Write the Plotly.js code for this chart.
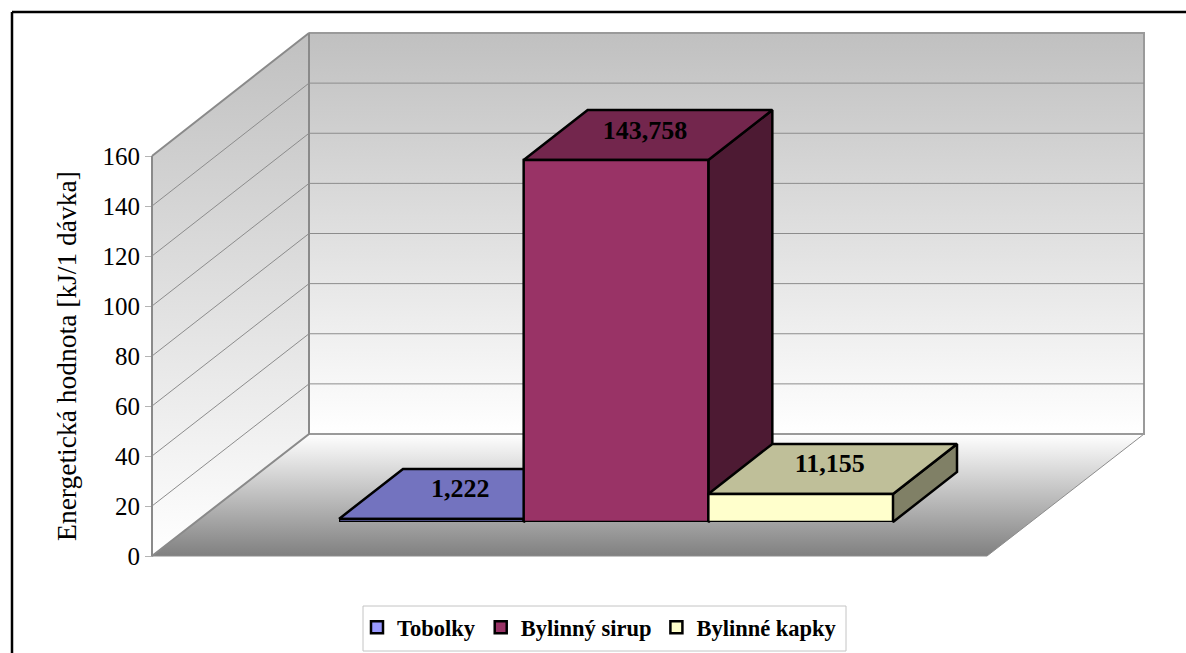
<!DOCTYPE html>
<html>
<head>
<meta charset="utf-8">
<script src="https://cdn.plot.ly/plotly-3.0.1.min.js"></script>
<style>html,body{margin:0;padding:0;background:#fff}#c{width:1186px;height:653px}</style>
</head>
<body>
<div id="c"></div>
<script>
const seriesNames = ['Tobolky', 'Bylinný sirup', 'Bylinné kapky'];
const seriesValues = [1.222, 143.758, 11.155];
const valueLabels = ['1,222', '143,758', '11,155'];
const axisTicks = [0, 20, 40, 60, 80, 100, 120, 140, 160];
const axisTitle = 'Energetická hodnota [kJ/1 dávka]';
const frontColors = ['#9999FF', '#993366', '#FFFFCC'];
const topColors = ['#7373BF', '#73264D', '#BFBF99'];
const sideColors = ['#4D4D80', '#4D1A33', '#808066'];

const W = 1186, H = 653, SERIF = '"Liberation Serif", "Times New Roman", serif';
// oblique frame of the chart box, in picture pixels
const box = {left: 152, right: 987, floorY: 556, topY: 156, dx: 157, backFloorY: 434, backTopY: 33};
const barPlane = {left: 339, right: 893, baseY: 522, pxPerUnit: 2.518, dx: 64, dy: -50, axisMax: 160};
const legendBox = {x0: 363, x1: 846, y0: 606, y1: 651};
const barW = (barPlane.right - barPlane.left) / seriesValues.length;
const wallPx = (box.floorY - box.topY) / 160;
const backPx = (box.backFloorY - box.backTopY) / 160;
const wallY = v => box.floorY - v * wallPx;
const backY = v => box.backFloorY - v * backPx;
const barY = v => barPlane.baseY - v * barPlane.pxPerUnit;

const data = [];
const GRAY = '#8a8a8a';

function poly(xs, ys, extra) {
  return Object.assign({
    type: 'scatter', mode: 'lines', xaxis: 'x', yaxis: 'y2', fill: 'toself', showlegend: false, hoverinfo: 'skip',
    x: xs.concat(xs[0]), y: ys.concat(ys[0])
  }, extra);
}
function grad(c0, c1, a, b) {
  return {type: 'vertical', colorscale: [[0, c0], [1, c1]], start: a, stop: b};
}

// axis carrier trace
data.push({type: 'scatter', mode: 'lines', xaxis: 'x', yaxis: 'y', x: [box.left, box.left],
  y: [axisTicks[0], axisTicks[axisTicks.length - 1]], line: {color: GRAY, width: 2}, showlegend: false, hoverinfo: 'skip'});

// floor
const bl = box.left, br = box.right, fy = box.floorY, dx = box.dx;
const backFloor = box.backFloorY, backTop = box.backTopY;
data.push(poly([bl, br, br + dx, bl + dx], [fy, fy, backFloor, backFloor],
  {line: {color: '#8c8c8c', width: 1}, fillcolor: 'rgba(255,255,255,0)', fillgradient: grad('#ffffff', '#808080', backFloor, fy)}));
// back wall
data.push(poly([bl + dx, br + dx, br + dx, bl + dx], [backTop, backTop, backFloor, backFloor],
  {line: {color: '#9a9a9a', width: 2}, fillcolor: 'rgba(255,255,255,0)', fillgradient: grad('#c0c0c0', '#ffffff', backTop, backFloor)}));
// left wall
data.push(poly([bl, bl + dx, bl + dx, bl], [wallY(160), backTop, backFloor, fy],
  {line: {color: GRAY, width: 2}, fillcolor: 'rgba(255,255,255,0)', fillgradient: grad('#c0c0c0', '#ffffff', backTop, fy)}));
// gridlines on walls
axisTicks.slice(1, -1).forEach(v => {
  data.push({type: 'scatter', mode: 'lines', xaxis: 'x', yaxis: 'y2', showlegend: false, hoverinfo: 'skip',
    x: [bl, bl + dx, br + dx], y: [wallY(v), backY(v), backY(v)], line: {color: '#8c8c8c', width: 1}});
});

// top and side faces of each bar, from its value
seriesValues.forEach((v, i) => {
  const x0 = barPlane.left + i * barW, x1 = x0 + barW, t = barY(v), b = barPlane.baseY;
  const d = barPlane.dx, e = barPlane.dy;
  const edge = {color: '#000', width: 2.5};
  data.push(poly([x1, x1 + d, x1 + d, x1], [t, t + e, b + e, b], {line: edge, fillcolor: sideColors[i]}));
  data.push(poly([x0, x1, x1 + d, x0 + d], [t, t, t + e, t + e], {line: edge, fillcolor: topColors[i]}));
});
// value labels on the top faces
data.push({type: 'scatter', mode: 'text', xaxis: 'x', yaxis: 'y2', showlegend: false, hoverinfo: 'skip',
  x: seriesValues.map((v, i) => barPlane.left + (i + 0.5) * barW + barPlane.dx / 2 - 3),
  y: seriesValues.map(v => barY(v) + barPlane.dy / 2 - 3),
  text: valueLabels, textposition: 'middle center',
  textfont: {family: SERIF, size: 26, color: '#000', weight: 'bold'}});

// front faces: real bars
seriesNames.forEach((n, i) => {
  data.push({type: 'bar', name: n, x: ['A'], y: [seriesValues[i]], xaxis: 'x2', yaxis: 'y3',
    marker: {color: frontColors[i], line: {color: '#000', width: 2.5}}, hoverinfo: 'skip'});
});

const layout = {
  width: W, height: H, margin: {l: 0, r: 0, t: 0, b: 0}, paper_bgcolor: '#fff', plot_bgcolor: 'rgba(0,0,0,0)',
  hovermode: false, barmode: 'group', bargap: 0, bargroupgap: 0,
  font: {family: SERIF, color: '#000'},
  xaxis: {range: [0, W], domain: [0, 1], visible: false, fixedrange: true},
  yaxis: {range: [0, 160], domain: [(H - box.floorY) / H, (H - box.topY) / H], anchor: 'free', position: box.left / W,
    tickmode: 'array', tickvals: axisTicks, ticks: 'outside', ticklen: 7, tickwidth: 1, tickcolor: '#b4b4b4',
    showgrid: false, zeroline: false, showline: false, tickfont: {family: SERIF, size: 25, color: '#000'},
    title: {text: axisTitle, standoff: 16, font: {family: SERIF, size: 27.5, color: '#000'}}},
  yaxis2: {range: [H, 0], domain: [0, 1], visible: false, anchor: 'x', fixedrange: true},
  xaxis2: {domain: [barPlane.left / W, barPlane.right / W], type: 'category', visible: false, anchor: 'y3', fixedrange: true},
  yaxis3: {range: [0, barPlane.axisMax], domain: [(H - barPlane.baseY) / H, (H - barPlane.baseY + barPlane.axisMax * barPlane.pxPerUnit) / H],
    visible: false, anchor: 'x2', fixedrange: true},
  showlegend: true,
  legend: {orientation: 'h', x: (legendBox.x0 - 6) / W, xanchor: 'left', y: (H - legendBox.y0) / H, yanchor: 'top', bgcolor: 'rgba(0,0,0,0)',
    borderwidth: 0, traceorder: 'normal',
    font: {family: SERIF, size: 22.5, color: '#000', weight: 'bold'}},
  shapes: [
    {type: 'line', xref: 'paper', yref: 'paper', x0: 12 / W, x1: 1, y0: (H - 12) / H, y1: (H - 12) / H, line: {color: '#000', width: 2.5}},
    {type: 'line', xref: 'paper', yref: 'paper', x0: 12 / W, x1: 12 / W, y0: 0, y1: (H - 12) / H, line: {color: '#000', width: 2.5}},
    {type: 'rect', xref: 'paper', yref: 'paper', x0: legendBox.x0 / W, x1: legendBox.x1 / W, y0: (H - legendBox.y1) / H, y1: (H - legendBox.y0) / H,
      line: {color: '#c4c4c4', width: 1}, fillcolor: '#fff'}
  ]
};
Plotly.newPlot('c', data, layout, {displayModeBar: false, staticPlot: true});
</script>
</body>
</html>
